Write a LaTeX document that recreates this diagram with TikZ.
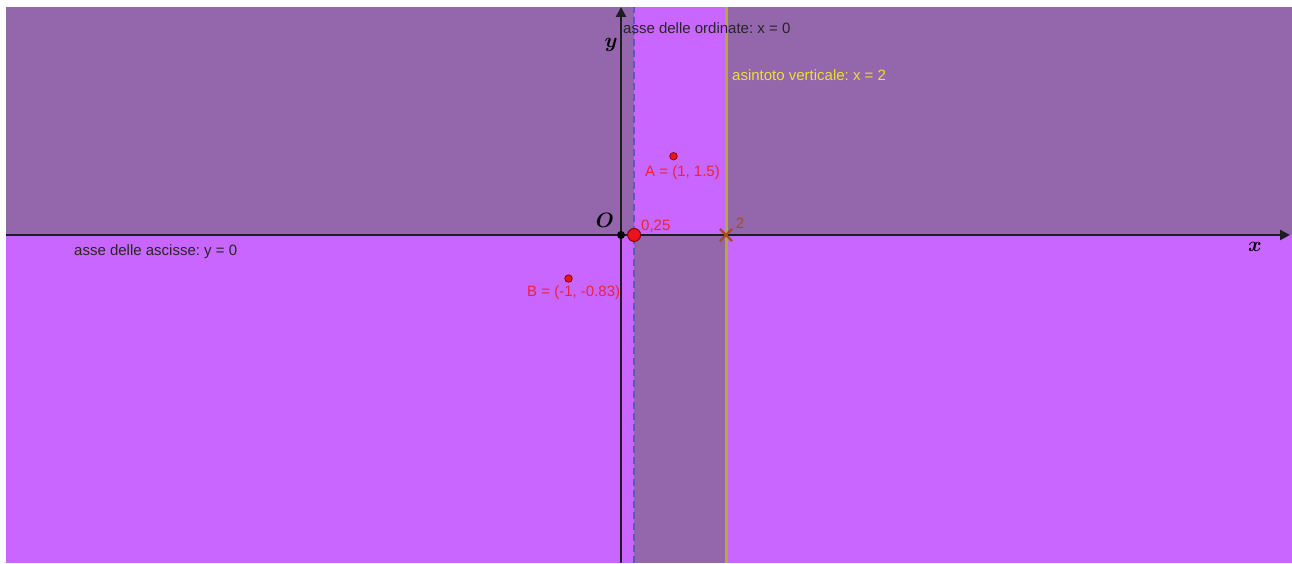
\documentclass[tikz,border=0pt]{standalone}
\usepackage{fontspec}
\setmainfont{Liberation Sans}
\usepackage{amsmath}
\usetikzlibrary{arrows.meta,shapes.misc}
\frenchspacing

\definecolor{darkreg}{RGB}{148,102,172}
\definecolor{lightreg}{RGB}{201,102,255}
\definecolor{axisgray}{RGB}{30,30,30}
\definecolor{dashblue}{RGB}{88,90,190}
\definecolor{asyline}{RGB}{184,168,60}
\definecolor{asytext}{RGB}{235,225,50}
\definecolor{ptred}{RGB}{235,20,30}
\definecolor{lblred}{RGB}{235,35,60}
\definecolor{crossbrown}{RGB}{165,75,40}

\begin{document}
\begin{tikzpicture}[x=52.5pt, y=52.5pt,
  lbl/.style={font=\fontsize{15}{18}\selectfont, inner sep=0pt, anchor=base west},
  axlbl/.style={font=\fontsize{20}{24}\selectfont, inner sep=0pt},
  axis/.style={line width=2.4pt, color=axisgray, -{Triangle[length=10pt,width=10pt]}},
  pt/.style={circle, draw=red!50!black, fill=ptred, inner sep=0pt, line width=0.7pt}]

  \useasboundingbox (-11.829,-6.248) rectangle (12.781,4.476);

  % Regions
  \fill[darkreg] (-11.714,0) rectangle (0.25,4.343);
  \fill[darkreg] (2,0) rectangle (12.781,4.343);
  \fill[darkreg] (0.25,0) rectangle (2,-6.248);
  \fill[lightreg] (0.25,0) rectangle (2,4.343);
  \fill[lightreg] (-11.714,-6.248) rectangle (0.25,0);
  \fill[lightreg] (2,-6.248) rectangle (12.781,0);

  % End points of the lines
  \coordinate (XL) at (-11.714,0);
  \coordinate (XR) at (12.743,0);
  \coordinate (YB) at (0,-6.248);
  \coordinate (YT) at (0,4.343);
  \coordinate (DB) at (0.25,-6.248);
  \coordinate (DT) at (0.25,4.343);
  \coordinate (VB) at (2,-6.248);
  \coordinate (VT) at (2,4.343);

  % Vertical lines
  \draw[line width=3pt, color=asyline] (VB) -- (VT);
  \draw[line width=2pt, color=dashblue, dash pattern=on 7pt off 4pt] (DB) -- (DT);

  % Axes
  \draw[axis] (XL) -- (XR);
  \draw[axis] (YB) -- (YT);

  % Points
  \node[pt, minimum size=7.5pt] (A) at (1,1.5) {};
  \node[pt, minimum size=7.5pt] (B) at (-1,-0.83) {};
  \node[pt, minimum size=13pt, line width=0.9pt] (Z) at (0.25,0) {};
  \node[circle, fill=black, inner sep=0pt, minimum size=8pt] (O) at (0,0) {};
  \node[cross out, draw=crossbrown, line width=2.2pt, inner sep=0pt, minimum size=10pt] (P2) at (2,0) {};

  % Labels
  \node[lbl, color=black!85] (Lord) at (0.038,3.829) {asse delle ordinate: x = 0};
  \node[lbl, color=asytext] (Lasy) at (2.114,2.952) {asintoto verticale: x = 2};
  \node[lbl, color=black!85] (Lasc) at (-10.419,-0.4) {asse delle ascisse: y = 0};
  \node[lbl, color=lblred] (LA) at (0.457,1.105) {A = (1, 1.5)};
  \node[lbl, color=lblred] (LB) at (-1.790,-1.181) {B = (-1, -0.83)};
  \node[lbl, color=lblred] (LZ) at (0.381,0.082) {0,25};
  \node[lbl, color=crossbrown] (L2) at (2.185,0.133) {2};
  \node[axlbl] (LO) at (-0.305,0.286) {$\boldsymbol{O}$};
  \node[axlbl] (Ly) at (-0.19,3.619) {$\boldsymbol{y}$};
  \node[axlbl] (Lx) at (12.076,-0.229) {$\boldsymbol{x}$};

\end{tikzpicture}
\end{document}
